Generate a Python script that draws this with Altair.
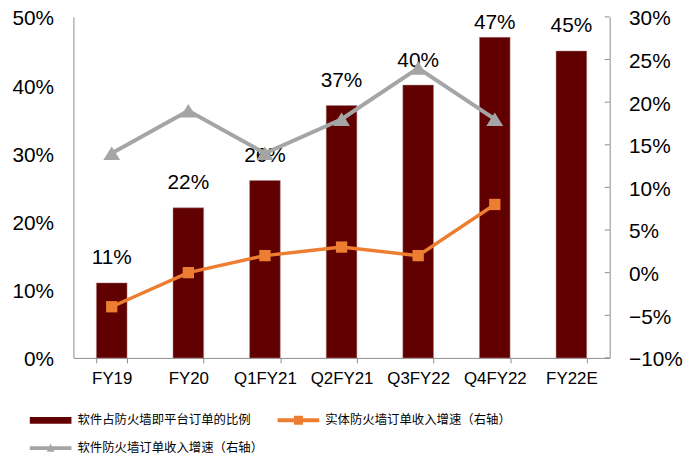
import altair as alt
import pandas as pd

categories = ["FY19", "FY20", "Q1FY21", "Q2FY21", "Q3FY22", "Q4FY22", "FY22E"]
software_share = [0.11, 0.22, 0.26, 0.37, 0.40, 0.47, 0.45]
hw_categories = ["FY19", "FY20", "Q1FY21", "Q2FY21", "Q3FY22", "Q4FY22"]
hw_growth = [-0.04, 0.00, 0.02, 0.03, 0.02, 0.08]
sw_growth = [0.14, 0.19, 0.14, 0.18, 0.24, 0.18]
series_names = ["软件占防火墙即平台订单的比例", "软件防火墙订单收入增速（右轴）", "实体防火墙订单收入增速（右轴）"]
right_ticks = [-0.1, -0.05, 0, 0.05, 0.1, 0.15, 0.2, 0.25, 0.3]

BAR = "#600000"
ORANGE = "#ED7D31"
GRAY = "#A5A5A5"
AXIS = "#8C8C8C"
FONT = "Liberation Sans"
CJK = "Noto Sans CJK SC"

bar_df = pd.DataFrame({"cat": categories, "v": software_share})
hw_df = pd.DataFrame({"cat": hw_categories, "v": hw_growth})
sw_df = pd.DataFrame({"cat": hw_categories, "v": sw_growth})
legend_df = pd.DataFrame({"series": series_names})
tick_df = pd.DataFrame({"t": right_ticks})

xscale = alt.Scale(domain=categories, paddingInner=0.6, paddingOuter=0.3)
xaxis = alt.Axis(title=None, labelAngle=0, labelFont=FONT, labelFontSize=17, labelColor="black",
                 domainColor=AXIS, tickColor=AXIS, tickSize=5, tickBand="extent", labelPadding=8)
x_enc = alt.X("cat:N", scale=xscale, axis=xaxis, sort=categories)

lscale = alt.Scale(domain=[0, 0.5], nice=False)
laxis = alt.Axis(title=None, format=".0%", values=[0, 0.1, 0.2, 0.3, 0.4, 0.5], labelFont=FONT,
                 labelFontSize=21, labelColor="black", domainColor=AXIS, ticks=False,
                 labelPadding=20, labelOffset=2, grid=False, orient="left")
rscale = alt.Scale(domain=[-0.1, 0.3], nice=False)
raxis = alt.Axis(title=None, format=".0%", values=right_ticks, labelFont=FONT, labelFontSize=21,
                 labelColor="black", domainColor=AXIS, ticks=False, labelPadding=19,
                 labelOffset=2, grid=False, orient="right")

bars = alt.Chart(bar_df).mark_bar(color=BAR, stroke="#B08080", strokeWidth=0.5).encode(
    x=x_enc, y=alt.Y("v:Q", scale=lscale, axis=laxis))
labels = alt.Chart(bar_df).transform_calculate(
    ly="min(datum.v + 0.036, 0.491)"
).mark_text(font=FONT, fontSize=21, baseline="middle", color="black").encode(
    x=x_enc, y=alt.Y("ly:Q", scale=lscale, axis=laxis), text=alt.Text("v:Q", format=".0%"))
left = alt.layer(bars, labels)

hw_line = alt.Chart(hw_df).mark_line(color=ORANGE, strokeWidth=3.5).encode(
    x=x_enc, y=alt.Y("v:Q", scale=rscale, axis=raxis))
hw_pts = alt.Chart(hw_df).mark_point(shape="square", filled=True, size=130, color=ORANGE, opacity=1).encode(
    x=x_enc, y=alt.Y("v:Q", scale=rscale, axis=raxis))
sw_line = alt.Chart(sw_df).mark_line(color=GRAY, strokeWidth=4).encode(
    x=x_enc, y=alt.Y("v:Q", scale=rscale, axis=raxis))
sw_pts = alt.Chart(sw_df).mark_point(shape="M-1,0.8L0,-0.8L1,0.8Z", filled=True, size=289,
                                     color=GRAY, opacity=1).encode(
    x=x_enc, y=alt.Y("v:Q", scale=rscale, axis=raxis))
rticks = alt.Chart(tick_df).mark_rule(color=AXIS, strokeWidth=1).encode(
    y=alt.Y("t:Q", scale=rscale, axis=raxis), x=alt.value(536), x2=alt.value(541))
right = alt.layer(sw_line, hw_line, rticks, sw_pts, hw_pts)

sym_bar = "M-2,-0.33H2V0.33H-2Z"
sym_orange = "M-2,-0.19H2V0.19H-2Z M-0.43,-0.43H0.43V0.43H-0.43Z"
sym_gray = "M-2,-0.19H2V0.19H-2Z M0,-0.45L0.36,0.36H-0.36Z"

leg = alt.Legend(title=None, orient="none", legendX=-33.5, legendY=396.5, columns=2,
                 symbolSize=441, symbolStrokeWidth=0, symbolOpacity=1,
                 labelFont=CJK, labelFontSize=12.5, labelColor="black", labelLimit=0,
                 labelOffset=16.5, columnPadding=13, rowPadding=11, padding=0)
legend_layer = alt.Chart(legend_df).mark_point(filled=True, opacity=0).encode(
    x=alt.value(0), y=alt.value(0),
    color=alt.Color("series:N", scale=alt.Scale(domain=series_names, range=[BAR, GRAY, ORANGE]), legend=leg),
    shape=alt.Shape("series:N", scale=alt.Scale(domain=series_names, range=[sym_bar, sym_gray, sym_orange]),
                    legend=leg),
)

chart = alt.layer(left, right, legend_layer).resolve_scale(y="independent").properties(
    width=541, height=344,
    autosize=alt.AutoSizeParams(type="none"),
    padding={"left": 66, "top": 7, "right": 78, "bottom": 100},
    background="white",
).configure_view(stroke=None)

chart.save("out.html", embed_options={"renderer": "svg", "actions": False})
